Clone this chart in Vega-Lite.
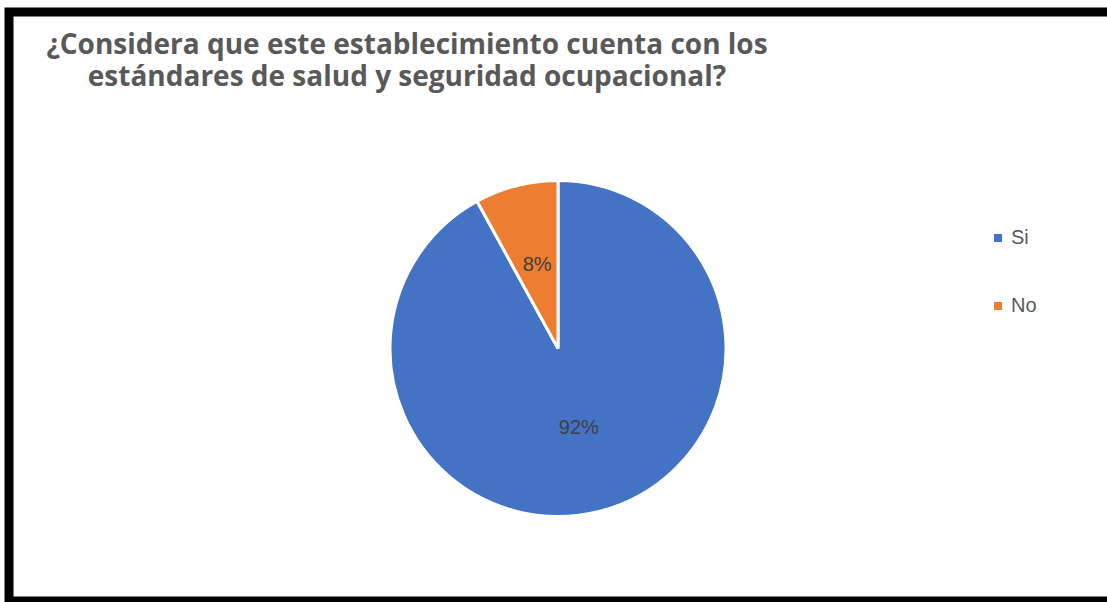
{
  "$schema": "https://vega.github.io/schema/vega-lite/v6.json",
  "width": 1107,
  "height": 602,
  "autosize": {"type": "fit", "contains": "padding"},
  "padding": {"left": 9, "top": 12, "right": 0, "bottom": 1},
  "background": "white",
  "view": {"stroke": "black", "strokeWidth": 9, "fill": "white", "strokeDash": [1098, 589, 1687, 589]},
  "config": {
    "font": "Liberation Sans",
    "style": {"cell": {"stroke": "black", "strokeWidth": 9, "fill": "white", "strokeDash": [1098, 589, 1687, 589]}}
  },
  "title": {
    "text": ["¿Considera que este establecimiento cuenta con los", "estándares de salud y seguridad ocupacional?"],
    "orient": "top",
    "anchor": "start",
    "align": "center",
    "dx": 398,
    "offset": -80,
    "font": "Open Sans",
    "fontSize": 28,
    "fontWeight": "bold",
    "color": "#595959",
    "lineHeight": 32
  },
  "data": {
    "values": [
      {"respuesta": "Si", "porcentaje": 92, "etiqueta": "92%", "orden": 1},
      {"respuesta": "No", "porcentaje": 8, "etiqueta": "8%", "orden": 2}
    ]
  },
  "encoding": {
    "theta": {"field": "porcentaje", "type": "quantitative", "stack": true},
    "order": {"field": "orden", "type": "quantitative"}
  },
  "layer": [
    {
      "mark": {"type": "arc", "outerRadius": 168, "stroke": "white", "strokeWidth": 3, "yOffset": 42},
      "encoding": {
        "color": {
          "field": "respuesta",
          "type": "nominal",
          "sort": ["Si", "No"],
          "scale": {"domain": ["Si", "No"], "range": ["#4472C4", "#ED7D31"]},
          "legend": {
            "title": null,
            "orient": "none",
            "legendX": 979,
            "legendY": 216,
            "symbolType": "square",
            "symbolSize": 64,
            "symbolStrokeWidth": 0,
            "labelFontSize": 20,
            "labelColor": "#595959",
            "labelFont": "Liberation Sans",
            "labelOffset": 3,
            "rowPadding": 48
          }
        }
      }
    },
    {
      "mark": {"type": "text", "radius": 84, "fontSize": 20, "color": "#404040", "yOffset": 40},
      "encoding": {
        "text": {"field": "etiqueta", "type": "nominal"}
      }
    }
  ]
}
